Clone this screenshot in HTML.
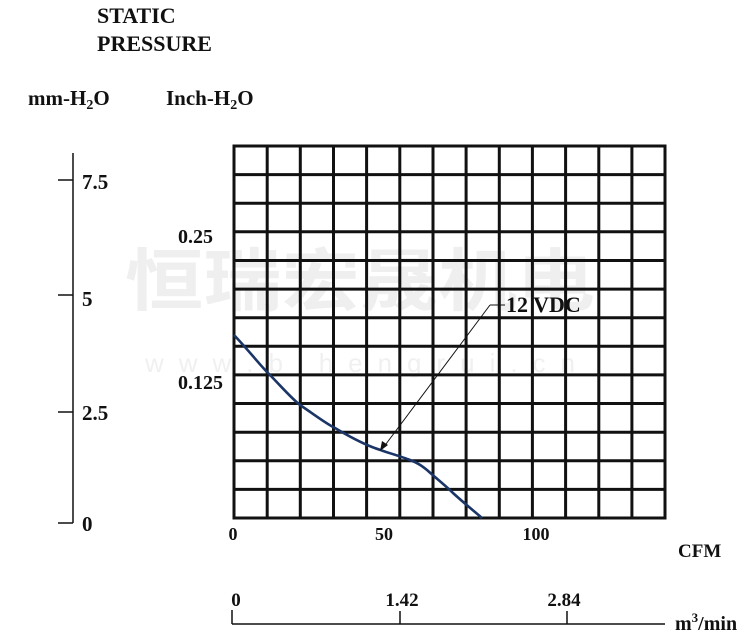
<!DOCTYPE html>
<html><head><meta charset="utf-8"><style>
html,body{margin:0;padding:0;background:#fff;}
svg{display:block;}
text{font-family:"Liberation Serif",serif;font-weight:bold;fill:#111;}
</style></head><body>
<svg width="750" height="638" viewBox="0 0 750 638" xmlns="http://www.w3.org/2000/svg">
<text x="125" y="305" font-size="68" style="fill:#efefef;font-family:'Liberation Sans','Noto Sans CJK SC',sans-serif" textLength="470" lengthAdjust="spacingAndGlyphs">恒瑞宏晟机电</text>
<text x="145" y="372" font-size="26" style="fill:#f0f0f0;font-family:'Liberation Sans',sans-serif;font-weight:normal" textLength="430" lengthAdjust="spacing">w w w . b j h e n g r u i . c n</text>
<text x="97" y="23" font-size="22">STATIC</text>
<text x="97" y="51" font-size="22">PRESSURE</text>
<text x="28" y="105" font-size="21">mm-H<tspan font-size="14" dy="4">2</tspan><tspan dy="-4">O</tspan></text>
<text x="166" y="105" font-size="21">Inch-H<tspan font-size="14" dy="4">2</tspan><tspan dy="-4">O</tspan></text>
<g stroke="#111" stroke-width="1.5">
<line x1="73" y1="153" x2="73" y2="523"/>
<line x1="58" y1="180" x2="73" y2="180"/>
<line x1="58" y1="295" x2="73" y2="295"/>
<line x1="58" y1="412" x2="73" y2="412"/>
<line x1="58" y1="523" x2="73" y2="523"/>
</g>
<text x="82" y="189" font-size="21">7.5</text>
<text x="82" y="306" font-size="21">5</text>
<text x="82" y="420" font-size="21">2.5</text>
<text x="82" y="531" font-size="21">0</text>
<text x="178" y="243" font-size="20">0.25</text>
<text x="178" y="389" font-size="20">0.125</text>
<g stroke="#111" stroke-width="3" fill="none">
<rect x="234" y="146" width="431" height="372"/>
<path d="M267.2 146V518M300.3 146V518M333.5 146V518M366.6 146V518M399.8 146V518M433 146V518M466.1 146V518M499.3 146V518M532.4 146V518M565.6 146V518M598.8 146V518M631.9 146V518"/>
<path d="M234 174.6H665M234 203.2H665M234 231.8H665M234 260.5H665M234 289.1H665M234 317.7H665M234 346.3H665M234 374.9H665M234 403.5H665M234 432.2H665M234 460.8H665M234 489.4H665"/>
</g>
<path d="M234 335 C250 352 260 365 268 373 C280 385 290 397 300 405 C315 415 325 423 335 428 C350 437 362 443 372 447 C385 452 400 456 410 460 C418 463 422 466 427 470 C437 479 446 486 453 493 C465 504 474 511 482 518" stroke="#1a3566" stroke-width="2.6" fill="none"/>
<g stroke="#111" stroke-width="1">
<line x1="505" y1="305" x2="490" y2="305"/>
<line x1="490" y1="305" x2="383" y2="448"/>
</g>
<path d="M380 451 L382 441 L388 445 Z" fill="#111"/>
<text x="506" y="312" font-size="22">12 VDC</text>
<text x="233" y="540" font-size="18" text-anchor="middle">0</text>
<text x="384" y="540" font-size="18" text-anchor="middle">50</text>
<text x="536" y="540" font-size="18" text-anchor="middle">100</text>
<text x="678" y="557" font-size="19">CFM</text>
<g stroke="#111" stroke-width="1.5">
<line x1="232" y1="624" x2="665" y2="624"/>
<line x1="232" y1="610" x2="232" y2="624"/>
<line x1="400" y1="611" x2="400" y2="624"/>
<line x1="567" y1="611" x2="567" y2="624"/>
</g>
<text x="236" y="606" font-size="19" text-anchor="middle">0</text>
<text x="402" y="606" font-size="19" text-anchor="middle">1.42</text>
<text x="564" y="606" font-size="19" text-anchor="middle">2.84</text>
<text x="675" y="630" font-size="20">m<tspan font-size="13" dy="-8">3</tspan><tspan dy="8">/min</tspan></text>
</svg>
</body></html>
